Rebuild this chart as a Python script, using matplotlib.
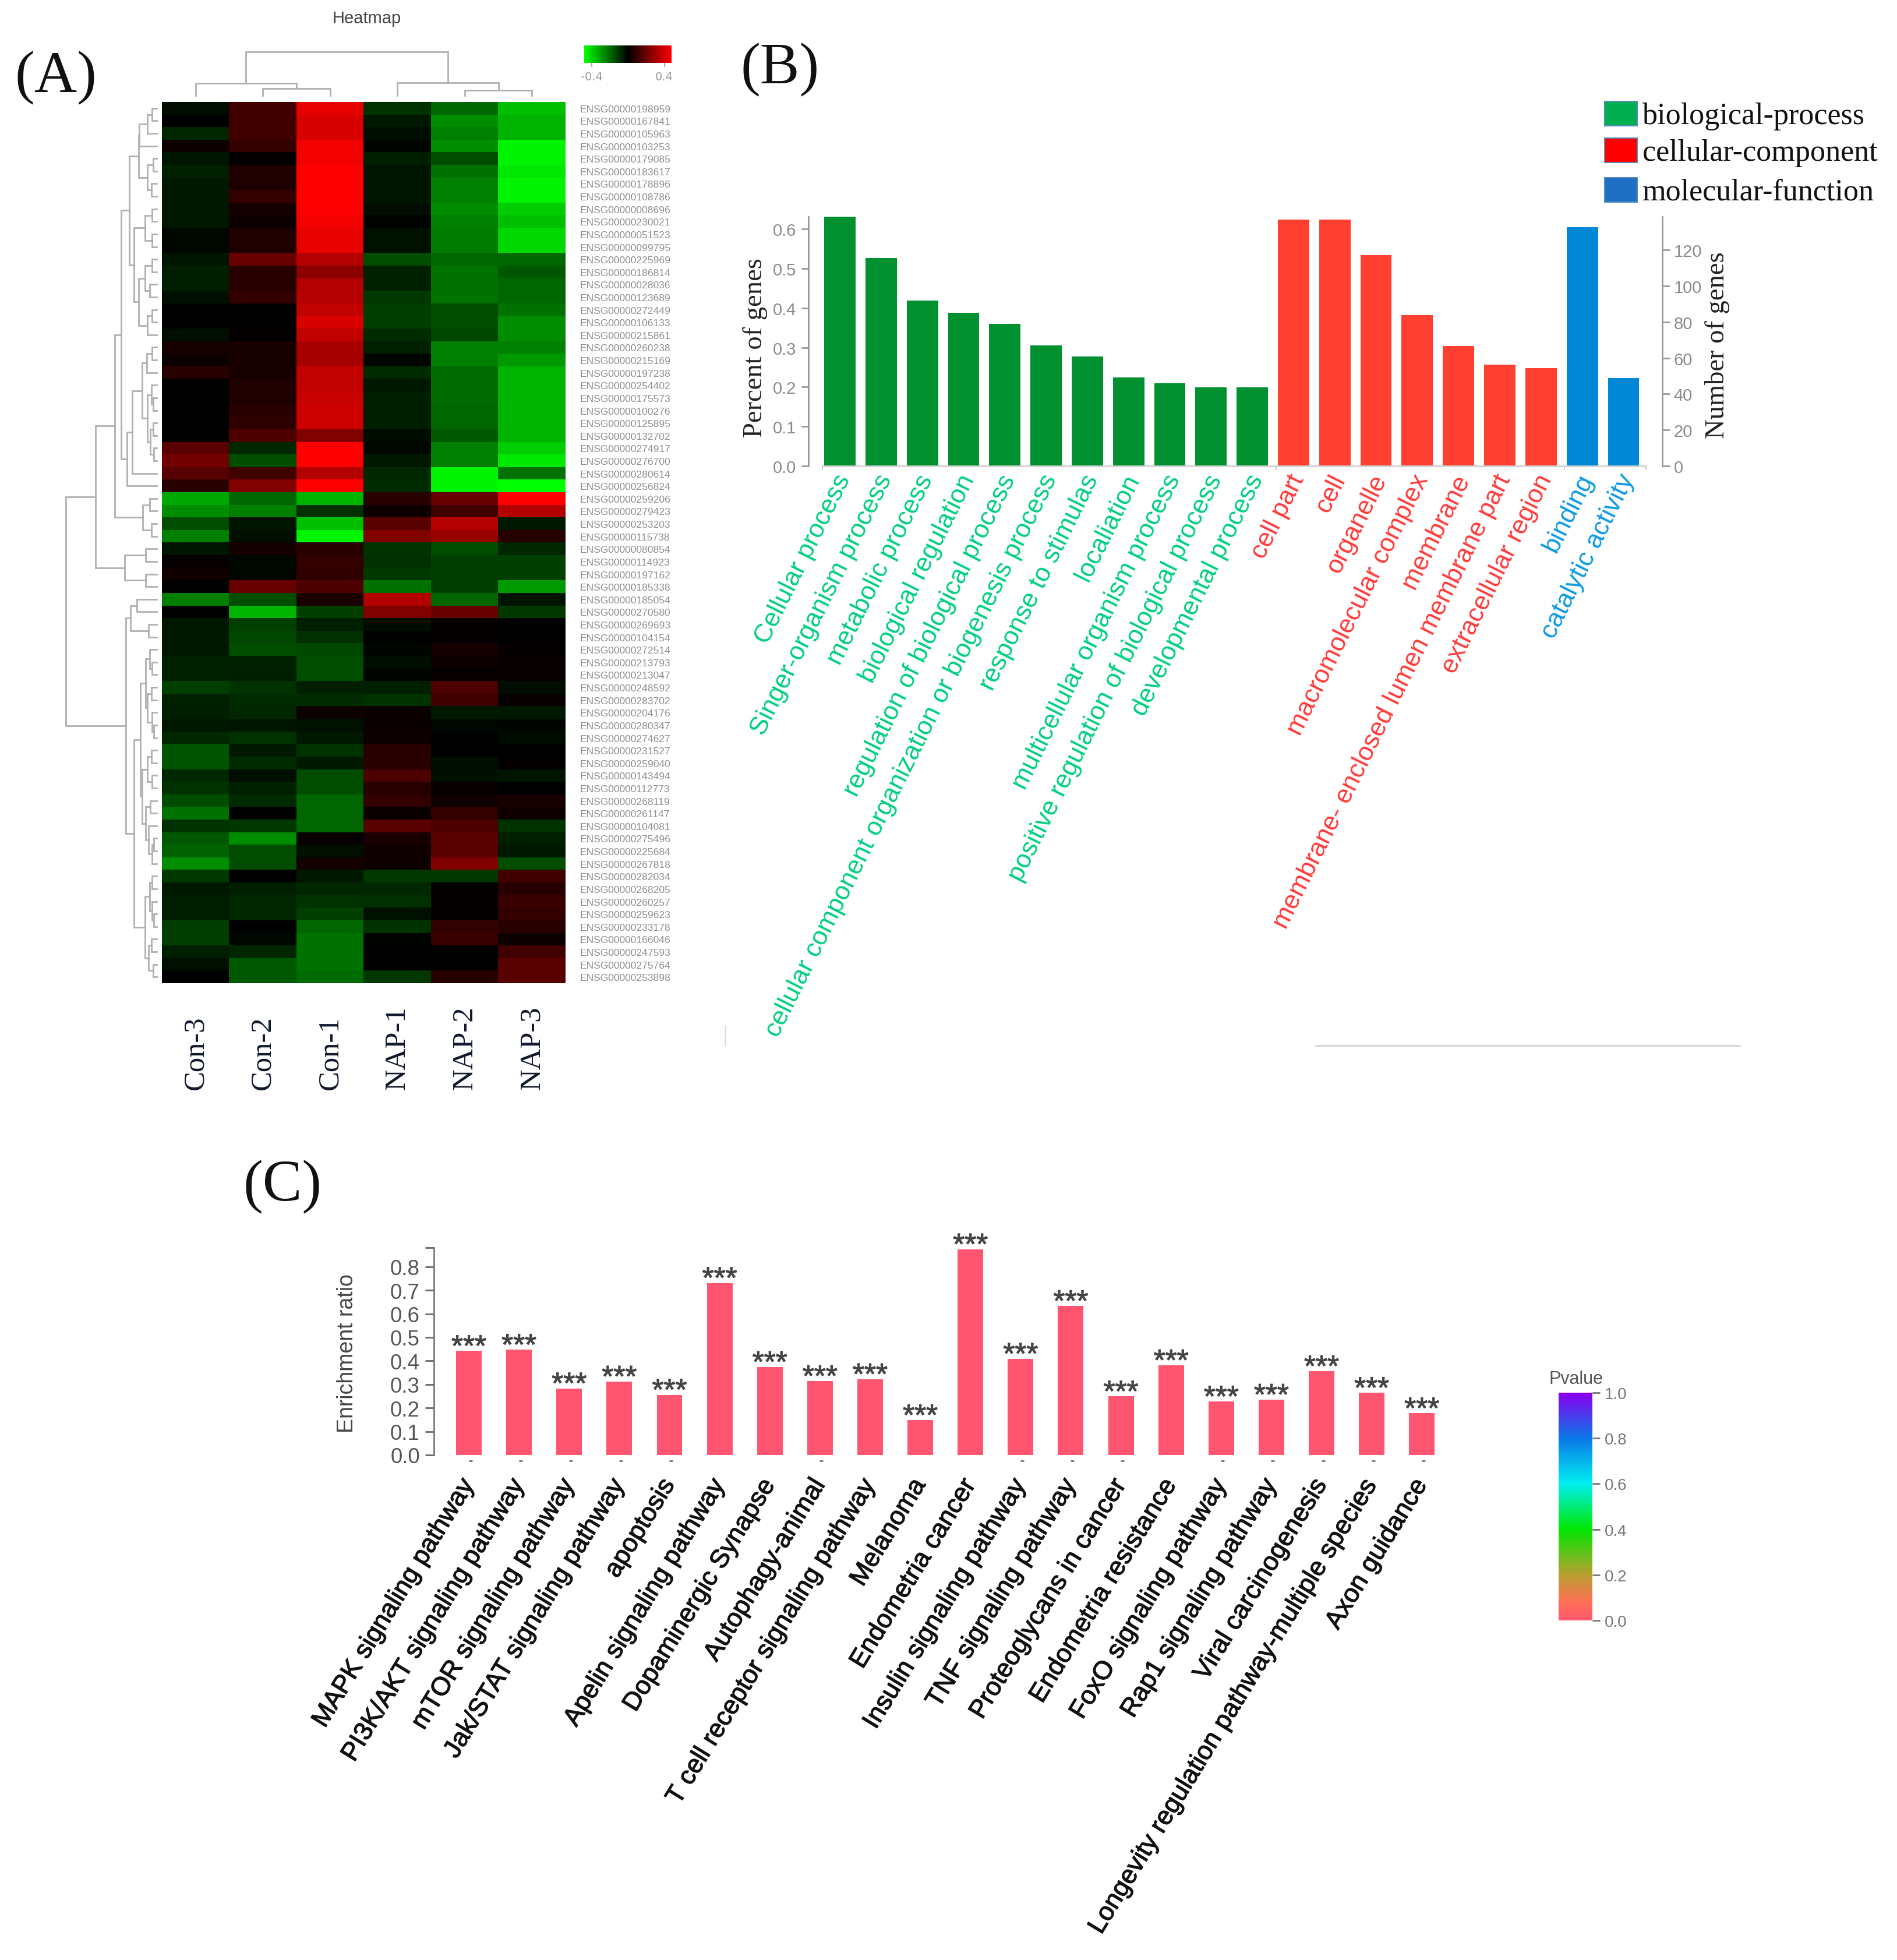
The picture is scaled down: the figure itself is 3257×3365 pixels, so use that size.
import numpy as np
import matplotlib
matplotlib.use('Agg')
import matplotlib.pyplot as plt
import matplotlib.patheffects as pe
from matplotlib.cm import ScalarMappable
from matplotlib.colors import LinearSegmentedColormap, Normalize
from matplotlib.lines import Line2D

W, H = 3257, 3366
SANS = 'Liberation Sans'
SERIF = 'Liberation Serif'

# Panel A, cells read as a share of the colour limit (negative is green)
heat_limit = 0.48
samples = ['Con-3', 'Con-2', 'Con-1', 'NAP-1', 'NAP-2', 'NAP-3']
con3 = [-.05, 0, -.15, .05, -.08, -.13, -.1, -.1, -.1, -.1, -.03, -.03, -.08, -.12, -.12, -.07, 0, 0, -.06, .1,
        .05, .15, 0, 0, 0, 0, 0, .35, .45, .35, .15, -.65, -.55, -.3, -.5, -.08, .03, .07, 0, -.5,
        0, -.1, -.1, -.1, -.13, -.13, -.25, -.13, -.12, -.1, -.15, -.33, -.33, -.15, -.2, -.3, -.45, -.2, -.35, -.38,
        -.55, -.22, -.1, -.12, -.12, -.25, -.25, -.12, -.06, 0]
con2 = [.25, .25, .25, .2, .02, .12, .12, .2, .08, .05, .12, .12, .4, .15, .15, .2, 0, 0, .02, .1,
        .1, .1, .12, .12, .15, .18, .3, -.15, -.3, .25, .5, -.4, -.5, -.08, -.06, .08, -.03, -.03, .4, -.3,
        -.7, -.25, -.27, -.3, -.13, -.12, -.2, -.17, -.15, -.08, -.2, -.1, -.17, -.05, -.13, -.17, 0, -.22, -.55, -.3,
        -.3, 0, -.12, -.15, -.15, 0, -.03, -.15, -.35, -.35]
con1 = [.9, .85, .85, .95, .95, 1, 1, 1, 1, .95, .9, .9, .7, .55, .7, .7, .75, .85, .75, .65,
        .65, .75, .75, .78, .8, .8, .5, 1, 1, .7, 1, -.7, -.2, -.75, -.95, .15, .2, .18, .3, .1,
        -.25, -.12, -.18, -.28, -.3, -.3, -.12, -.17, .05, -.07, -.1, -.2, -.1, -.3, -.3, -.4, -.4, -.4, .03, -.06,
        .08, -.1, -.15, -.2, -.25, -.4, -.45, -.45, -.45, -.42]
nap1 = [-.2, -.1, -.05, -.02, -.12, -.08, -.08, -.08, -.05, -.01, -.07, -.07, -.3, -.13, -.13, -.22, -.25, -.25, -.17, -.13,
        -.02, -.17, -.1, -.12, -.12, -.12, -.04, -.03, -.1, -.15, -.17, .15, .05, .35, .5, -.2, -.18, -.22, -.45, .7,
        .5, -.05, 0, -.02, -.05, -.02, -.12, -.2, .04, .04, .05, .15, .15, .3, .15, .2, .04, .35, .1, .07,
        .06, -.22, -.15, -.18, -.07, -.2, -.01, 0, 0, -.22]
nap2 = [-.4, -.55, -.5, -.55, -.3, -.45, -.5, -.5, -.55, -.5, -.48, -.48, -.4, -.45, -.45, -.45, -.3, -.3, -.28, -.5,
        -.5, -.42, -.42, -.42, -.4, -.4, -.35, -.5, -.5, -.95, -.95, .4, .25, .7, .6, -.3, -.25, -.25, -.25, -.4,
        .4, .02, .02, .08, .05, .03, .3, .25, -.1, -.03, 0, 0, -.05, -.07, .03, .05, .2, .3, .35, .35,
        .5, -.22, .01, .02, .02, .2, .22, 0, 0, .15]
nap3 = [-.75, -.7, -.7, -.95, -.95, -.9, -.95, -.95, -.8, -.75, -.85, -.85, -.4, -.35, -.4, -.4, -.45, -.55, -.55, -.5,
        -.6, -.7, -.7, -.7, -.7, -.7, -.7, -.8, -.9, -.45, -1, 1, .7, -.1, .15, -.15, -.25, -.25, -.6, -.08,
        -.22, 0, 0, .02, .03, .03, -.05, .03, -.1, -.02, -.04, 0, .02, -.08, 0, .1, .06, -.2, -.12, -.1,
        -.3, .25, .15, .22, .2, .15, .05, .25, .35, .35]
gene_ids = ['198959', '167841', '105963', '103253', '179085', '183617', '178896', '108786', '008696', '230021',
            '051523', '099795', '225969', '186814', '028036', '123689', '272449', '106133', '215861', '260238',
            '215169', '197238', '254402', '175573', '100276', '125895', '132702', '274917', '276700', '280614',
            '256824', '259206', '279423', '253203', '115738', '080854', '114923', '197162', '185338', '185054',
            '270580', '269693', '104154', '272514', '213793', '213047', '248592', '283702', '204176', '280347',
            '274627', '231527', '259040', '143494', '112773', '268119', '261147', '104081', '275496', '225684',
            '267818', '282034', '268205', '260257', '259623', '233178', '166046', '247593', '275764', '253898']

# Dendrograms: [merge height, left, right], leaves are column or row numbers
col_tree = [1.0, [.28, 0, [.16, 1, 2]], [.29, 3, [.12, 4, 5]]]
row_tree = [1.0,
            [.67,
             [.46,
              [.39,
               [.30,
                [.20,
                 [.19, [.10, [.05, 0, 1], 2], 3],
                 [.10, [.04, 4, 5], [.06, 6, 7]]],
                [.25,
                 [.13, [.05, 8, 9], [.05, 10, 11]],
                 [.20, [.13, [.05, 12, 13], [.08, 14, 15]], [.10, [.05, 16, 17], 18]]]],
               [.33,
                [.27,
                 [.16,
                  [.11, [.05, 19, 20], 21],
                  [.10, [.06, 22, [.04, 23, 24]], [.07, [.04, 25, 26], [.03, 27, 28]]]],
                 29],
                30]],
              [.155, [.08, 31, 32], [.06, 33, 34]]],
             [.35, [.12, 35, 36], [.12, 37, 38]]],
            [.34,
             [.29, [.22, 39, 40], [.09, 41, 42]],
             [.25,
              [.18,
               [.12, [.08, 43, [.05, 44, 45]], [.10, [.06, 46, 47], [.05, 48, [.03, 49, 50]]]],
               [.16, [.10, [.06, 51, 52], [.05, 53, 54]], [.12, [.07, 55, 56], [.09, 57, [.05, [.03, 58, 59], 60]]]]],
              [.13, [.08, [.05, 61, 62], [.05, 63, [.03, 64, 65]]], [.09, [.06, 66, 67], [.04, 68, 69]]]]]]

# Panel B
bp_labels = ['Cellular process', 'Singer-organism process', 'metabolic process', 'biological regulation',
             'regulation of biological process', 'cellular component organization or biogenesis process',
             'response to stimulas', 'localiation', 'multicellular organism process',
             'positive regulation of biological process', 'developmental process']
cc_labels = ['cell part', 'cell', 'organelle', 'macromolecular complex', 'membrane',
             'membrane- enclosed lumen membrane part', 'extracellular region']
mf_labels = ['binding', 'catalytic activity']
bp_percent = [.631, .527, .419, .388, .359, .305, .277, .224, .21, .199, .199]
cc_percent = [.624, .624, .533, .382, .303, .257, .247]
mf_percent = [.604, .222]

# Panel C
pathways = ['MAPK signaling pathway', 'PI3K/AKT signaling pathway', 'mTOR signaling pathway',
            'Jak/STAT signaling pathway', 'apoptosis', 'Apelin signaling pathway', 'Dopaminergic Synapse',
            'Autophagy-animal', 'T cell receptor signaling pathway', 'Melanoma', 'Endometria cancer',
            'Insulin signaling pathway', 'TNF signaling pathway', 'Proteoglycans in cancer',
            'Endometria resistance', 'FoxO signaling pathway', 'Rap1 signaling pathway', 'Viral carcinogenesis',
            'Longevity regulation pathway-multiple species', 'Axon guidance']
enrichment = [.442, .447, .283, .312, .256, .731, .374, .314, .322, .148, .874, .409, .633, .249, .381, .227,
              .235, .356, .264, .177]
has_tick = [0, 1, 2, 3, 4, 7, 11, 12, 13, 15, 16, 17, 18, 19]


def panel(x0, y0, x1, y1):
    return fig.add_axes([x0 / W, 1 - y1 / H, (x1 - x0) / W, (y1 - y0) / H])


def put_text(x, y, s, **kw):
    return fig.text(x / W, 1 - y / H, s, **kw)


def fig_line(xs, ys, color):
    fig.add_artist(Line2D([x / W for x in xs], [1 - y / H for y in ys], color=color, lw=1.8))


def draw_tree(ax, node, horizontal):
    # returns leaf position and height of this node
    if not isinstance(node, list):
        return node, 0.0
    h, left, right = node
    p1, h1 = draw_tree(ax, left, horizontal)
    p2, h2 = draw_tree(ax, right, horizontal)
    ps = [p1, p1, p2, p2]
    hs = [h1, h, h, h2]
    if horizontal:
        ax.plot(ps, hs, color='#b0b0b0', lw=2, solid_joinstyle='miter', clip_on=False)
    else:
        ax.plot(hs, ps, color='#b0b0b0', lw=2, solid_joinstyle='miter', clip_on=False)
    return (p1 + p2) / 2, h


fig = plt.figure(figsize=(W / 100, H / 100), dpi=100, facecolor='white')

put_text(26, 134, '(A)', family=SERIF, fontsize=73, va='center', ha='left', color='#111111')
put_text(1271, 120, '(B)', family=SERIF, fontsize=73, va='center', ha='left', color='#111111')
put_text(418, 2038, '(C)', family=SERIF, fontsize=73, va='center', ha='left', color='#111111')

# ---- heatmap ----
heat_cmap = LinearSegmentedColormap.from_list('heat', ['#00ff00', '#000000', '#ff0000'])
matrix = np.column_stack([con3, con2, con1, nap1, nap2, nap3]) * heat_limit

ax = panel(278, 176, 971, 1689)
ax.imshow(matrix, cmap=heat_cmap, vmin=-heat_limit, vmax=heat_limit, aspect='auto', interpolation='nearest')
ax.set_xticks(range(6))
ax.set_xticklabels(samples, rotation=90, va='bottom', family=SERIF, fontsize=36.5, color='#10182a')
ax.tick_params(axis='x', length=0, pad=131)
ax.yaxis.tick_right()
ax.set_yticks(range(70))
ax.set_yticklabels(['ENSG00000' + g for g in gene_ids], family=SANS, fontsize=12.6, color='#8f8f8f')
ax.tick_params(axis='y', length=0, pad=18)
for s in ax.spines.values():
    s.set_visible(False)

ax = panel(113, 176, 269, 1689)
draw_tree(ax, row_tree, False)
ax.set_xlim(1, 0)
ax.set_ylim(69.5, -0.5)
ax.axis('off')

ax = panel(278, 90, 971, 165)
draw_tree(ax, col_tree, True)
ax.set_xlim(-0.5, 5.5)
ax.set_ylim(0, 1)
ax.axis('off')

put_text(630, 32, 'Heatmap', family=SANS, fontsize=21, ha='center', va='center', color='#444444')

cax = panel(1003, 79, 1153, 109)
cb = fig.colorbar(ScalarMappable(Normalize(-heat_limit, heat_limit), heat_cmap), cax=cax, orientation='horizontal')
cb.set_ticks([-0.4, 0.4])
cb.set_ticklabels(['-0.4', '0.4'])
cb.outline.set_visible(False)
cax.tick_params(length=5, width=1.5, color='#aaaaaa', labelsize=14, labelcolor='#999999', pad=5)

# ---- GO bars ----
go_labels = bp_labels + cc_labels + mf_labels
go_values = bp_percent + cc_percent + mf_percent
go_colors = ['#009030'] * len(bp_labels) + ['#ff3f30'] * len(cc_labels) + ['#0088d6'] * len(mf_labels)
text_colors = ['#00cf80'] * len(bp_labels) + ['#ff3b3b'] * len(cc_labels) + ['#0d9ae0'] * len(mf_labels)

ax = panel(1388, 373, 2854, 801)
x = np.arange(len(go_labels))
ax.bar(x, go_values, width=0.76, color=go_colors)
ax.set_xlim(-0.763, 19.94)
ax.set_ylim(0, 0.631)
ax.set_yticks([0, .1, .2, .3, .4, .5, .6])
ax.set_yticklabels(['0.0', '0.1', '0.2', '0.3', '0.4', '0.5', '0.6'], family=SANS, fontsize=21, color='#8a8a8a')
ax.tick_params(axis='y', length=9, width=2, color='#999999', pad=6)
ax.set_xticks([-0.42, 10.58, 17.57, 19.55])
ax.set_xticklabels([])
ax.tick_params(axis='x', length=5, width=1.5, color='#cccccc')
for i, lab in enumerate(go_labels):
    ax.annotate(lab, (i, 0), xytext=(6, -12), textcoords='offset points', rotation=63.5, ha='right', va='center',
                rotation_mode='anchor', family=SANS, fontsize=32, color=text_colors[i], annotation_clip=False)
ax.spines['top'].set_visible(False)
ax.spines['right'].set_visible(False)
ax.spines['left'].set_color('#999999')
ax.spines['left'].set_linewidth(2)
ax.spines['bottom'].set_color('#d0d0d0')
ax.spines['bottom'].set_linewidth(2)
ax.spines['bottom'].set_bounds(-0.42, 19.55)

ax2 = ax.twinx()
ax2.set_ylim(0, 138.5)
ax2.set_yticks([0, 20, 40, 60, 80, 100, 120])
ax2.set_yticklabels(['0', '20', '40', '60', '80', '100', '120'], family=SANS, fontsize=21, color='#8a8a8a')
ax2.tick_params(axis='y', length=9, width=2, color='#999999', pad=5)
for side in ['top', 'left', 'bottom']:
    ax2.spines[side].set_visible(False)
ax2.spines['right'].set_color('#999999')
ax2.spines['right'].set_linewidth(2)

put_text(1297, 597, 'Percent of genes', family=SERIF, fontsize=33.5, rotation=90, ha='center', va='center', color='#222222')
put_text(2948, 593, 'Number of genes', family=SERIF, fontsize=33.5, rotation=90, ha='center', va='center', color='#222222')

legend_names = ['biological-process', 'cellular-component', 'molecular-function']
legend_colors = ['#00b050', '#ff0000', '#1f6fc5']
for name, col, y0 in zip(legend_names, legend_colors, [175, 238, 306]):
    fig.patches.append(plt.Rectangle((2755 / W, 1 - (y0 + 42) / H), 56 / W, 42 / H, transform=fig.transFigure,
                                     facecolor=col, edgecolor='#5b8db8', lw=1.5, figure=fig))
    put_text(2820, y0 + 25, name, family=SERIF, fontsize=37.5, va='center', ha='left', color='#111111')

# stray frame pieces under panel B
fig_line([2259, 2987], [1796, 1796], '#cccccc')
fig_line([1245, 1245], [1762, 1796], '#dddddd')

# ---- KEGG bars ----
ax = panel(744.5, 2143, 2480, 2499)
x = np.arange(len(pathways))
bars = ax.bar(x, enrichment, width=0.51, color='#ff5570')
for i, v in enumerate(enrichment):
    ax.annotate('***', (i, v), xytext=(0, -14), textcoords='offset points', ha='center', va='bottom',
                family=SANS, fontsize=37, color='#444444',
                path_effects=[pe.withStroke(linewidth=0.8, foreground='#444444')])
ax.set_xlim(-0.703, 19.45)
ax.set_ylim(0, 0.881)
ax.set_yticks([0, .1, .2, .3, .4, .5, .6, .7, .8, .881])
ax.set_yticklabels(['0.0', '0.1', '0.2', '0.3', '0.4', '0.5', '0.6', '0.7', '0.8', ''],
                   family=SANS, fontsize=26.5, color='#555555')
ax.tick_params(axis='y', length=11, width=2, color='#666666', pad=6)
ax.set_xticks(x)
ax.set_xticklabels(pathways, rotation=58.5, ha='right', va='center', rotation_mode='anchor', family=SANS,
                   fontsize=32, color='#111111',
                   path_effects=[pe.withStroke(linewidth=0.9, foreground='#111111')])
ax.tick_params(axis='x', length=0, pad=32)
ax.plot(x[has_tick] + 0.03, [-0.028] * len(has_tick), ls='none', marker='_', ms=4, mew=2, color='#777777',
        transform=ax.get_xaxis_transform(), clip_on=False)
for side in ['top', 'right', 'bottom']:
    ax.spines[side].set_visible(False)
ax.spines['left'].set_color('#777777')
ax.spines['left'].set_linewidth(2)

put_text(596, 2324, 'Enrichment ratio', family=SANS, fontsize=27, rotation=90, ha='center', va='center', color='#444444')

# ---- p value scale ----
p_cmap = LinearSegmentedColormap.from_list('pvalue', [(0, '#ff5a70'), (.08, '#ff6f55'), (.2, '#b8a030'), (.4, '#00e600'),
                                                      (.6, '#00f0f0'), (.8, '#0a78e8'), (1, '#8a00f0')])
cax = panel(2676, 2392, 2734, 2783)
cb = fig.colorbar(ScalarMappable(Normalize(0, 1), p_cmap), cax=cax)
cb.set_ticks([0, .2, .4, .6, .8, 1])
cb.set_ticklabels(['0.0', '0.2', '0.4', '0.6', '0.8', '1.0'])
cb.outline.set_visible(False)
cax.tick_params(length=9, width=2, color='#777777', labelsize=20, labelcolor='#777777', pad=6)
for lab in cax.get_yticklabels():
    lab.set_family(SANS)
put_text(2706, 2368, 'Pvalue', family=SANS, fontsize=22, ha='center', va='center', color='#555555')

fig.savefig('out.png', dpi=100)
